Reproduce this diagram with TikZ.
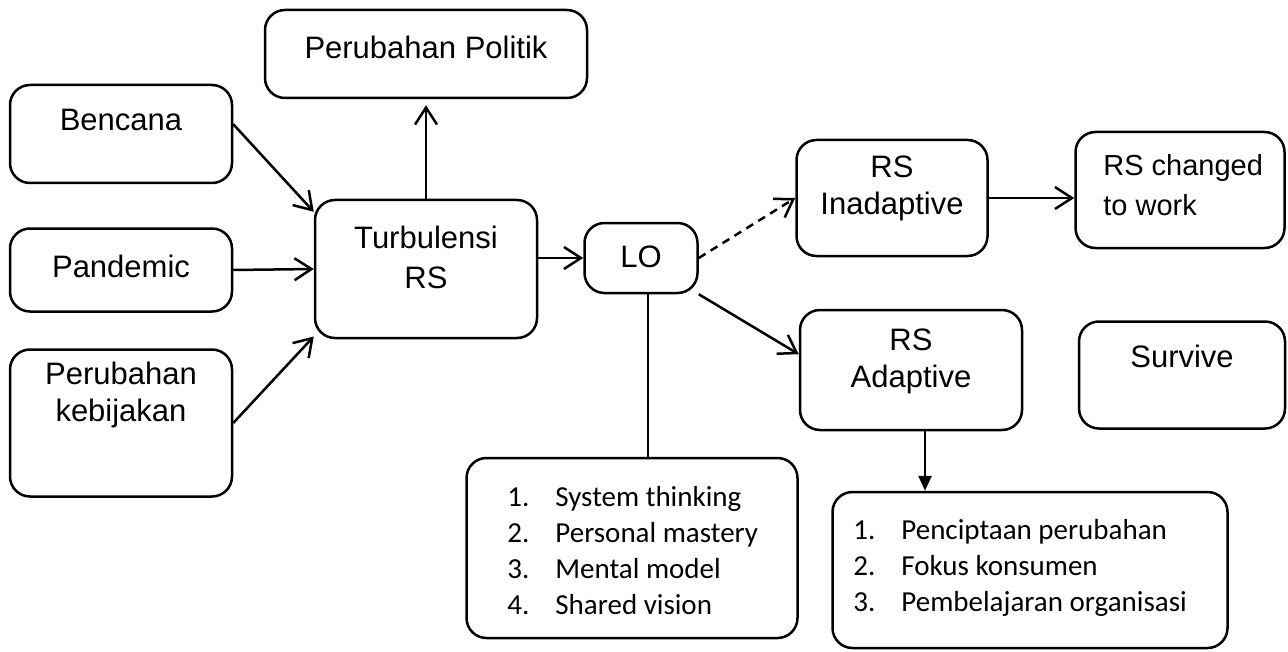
\documentclass[tikz,border=0pt]{standalone}
\usepackage{fontspec}
\setmainfont{Liberation Sans}
\newfontfamily\listfont{Carlito}
\usetikzlibrary{arrows.meta,positioning}
\tikzset{
  box/.style={
    draw=black,
    line width=1.25pt,
    rounded corners=10pt,
    inner sep=0pt
  },
  txt/.style={
    align=center,
    inner sep=0pt,
    font=\fontsize{15.5}{18.5}\selectfont
  },
  lst/.style={
    align=left,
    anchor=west,
    inner sep=0pt,
    font=\listfont\fontsize{14.5}{18}\selectfont
  },
  link/.style={
    line width=1.25pt,
    -{Straight Barb[length=8.5pt,width=11pt]}
  },
  linkfill/.style={
    line width=1.25pt,
    -{Triangle[length=7.5pt,width=6.5pt]}
  }
}
\newcommand{\itemno}[1]{\makebox[24pt][l]{#1}}

\begin{document}
\begin{tikzpicture}[x=0.5pt,y=-0.5pt]
  \useasboundingbox (0,0) rectangle (1288,652);
  % boxes
  \node[box, minimum width=161pt, minimum height=44pt] (politik) at (426,54) {};
  \node[box, minimum width=111pt, minimum height=49pt] (bencana) at (121,134) {};
  \node[box, minimum width=111pt, minimum height=41.5pt] (pandemic) at (121,270) {};
  \node[box, minimum width=111pt, minimum height=73.5pt] (kebijakan) at (121,423) {};
  \node[box, minimum width=111pt, minimum height=69pt] (turb) at (426,269) {};
  \node[box, minimum width=56.5pt, minimum height=35pt] (lo) at (641,258) {};
  \node[box, minimum width=95.5pt, minimum height=58pt] (inad) at (892,198) {};
  \node[box, minimum width=104.5pt, minimum height=58pt] (changed) at (1180,190) {};
  \node[box, minimum width=111pt, minimum height=60pt] (adapt) at (911,370) {};
  \node[box, minimum width=103pt, minimum height=53.5pt] (survive) at (1182,375) {};
  \node[box, minimum width=165.5pt, minimum height=90pt] (lolist) at (632,548) {};
  \node[box, minimum width=197.5pt, minimum height=78pt] (adlist) at (1030,570) {};

  % texts
  \node[txt] (politik-t) at (426,47) {Perubahan Politik};
  \node[txt] (bencana-t) at (121,120) {Bencana};
  \node[txt] (pandemic-t) at (121,266) {Pandemic};
  \node[txt] (kebijakan-t) at (121,395) {Perubahan\\kebijakan};
  \node[txt, font=\fontsize{15.5}{20}\selectfont] (turb-t) at (426,257) {Turbulensi\\RS};
  \node[txt] (lo-t) at (641,257) {LO};
  \node[txt] (inad-t) at (892,188) {RS\\Inadaptive};
  \node[txt, align=left, anchor=west, font=\fontsize{14.5}{20}\selectfont] (changed-t) at (1103,185) {RS changed\\to work};
  \node[txt] (adapt-t) at (911,361) {RS\\Adaptive};
  \node[txt] (survive-t) at (1182,356) {Survive};
  \node[lst] (lolist-t) at (507,551)
    {\itemno{1.}System thinking\\\itemno{2.}Personal mastery\\\itemno{3.}Mental model\\\itemno{4.}Shared vision};
  \node[lst] (adlist-t) at (853,568)
    {\itemno{1.}Penciptaan perubahan\\\itemno{2.}Fokus konsumen\\\itemno{3.}Pembelajaran organisasi};

  % connectors
  \draw[link] (bencana.5) -- (turb.153);
  \draw[link] (pandemic.east) -- (turb.west);
  \draw[link] (kebijakan.east) -- (turb.211);
  \draw[link, shorten >=3pt] (turb.north) -- (turb.north |- politik.south);
  \draw[link] (turb.east |- lo.west) -- (lo.west);
  \draw[link, dash pattern=on 4pt off 3pt] (lo.east) -- (inad.west);
  \draw[link] (lo.south east) -- (adapt.172);
  \draw[link] (inad.east) -- (inad.east -| changed.west);
  \draw[line width=1.25pt] ([xshift=3.5pt]lo.south) -- ([xshift=3.5pt]lo.south |- lolist.north);
  \draw[linkfill] ([xshift=7pt]adapt.south) -- ([xshift=7pt]adapt.south |- adlist.north);
\end{tikzpicture}
\end{document}
